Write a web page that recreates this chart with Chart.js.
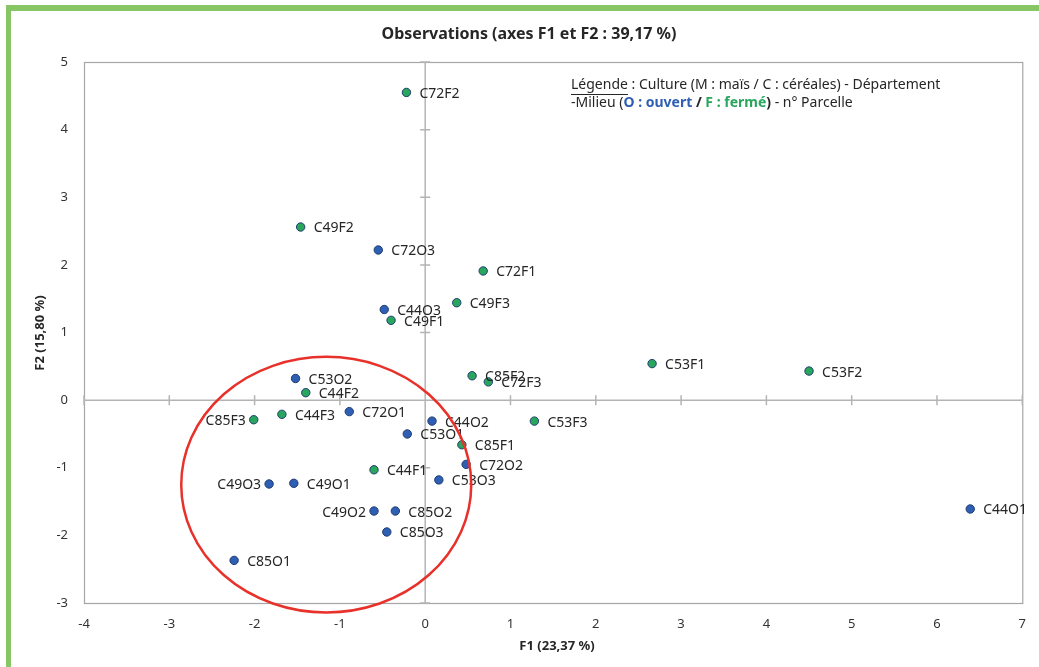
<!DOCTYPE html>
<html><head><meta charset="utf-8">
<script src="https://cdn.jsdelivr.net/npm/chart.js@4.4.1/dist/chart.umd.min.js"></script>
<style>
html,body{margin:0;padding:0;background:#fff;}
#wrap{position:relative;width:1039px;height:667px;overflow:hidden;background:#fff;}
#frame{position:absolute;left:6px;top:5px;right:-10px;bottom:-10px;border-top:6px solid #86c664;border-left:5px solid #86c664;}
canvas{position:absolute;left:0;top:0;}
</style></head><body>
<div id="wrap"><div id="frame"></div><canvas id="c" width="1039" height="667"></canvas></div>
<script>
// ---- data ----
const obsNames = ["C72F2","C49F2","C72O3","C72F1","C49F3","C44O3","C49F1","C85F2","C72F3","C53F1","C53F2",
  "C53O2","C44F2","C85F3","C44F3","C72O1","C44O2","C53F3","C53O1","C85F1","C72O2","C44F1","C53O3",
  "C49O3","C49O1","C49O2","C85O2","C85O3","C85O1","C44O1"];
const f1Values = [-0.22,-1.46,-0.55,0.68,0.37,-0.48,-0.40,0.55,0.74,2.66,4.50,
  -1.52,-1.40,-2.01,-1.68,-0.89,0.08,1.28,-0.21,0.43,0.48,-0.60,0.16,
  -1.83,-1.54,-0.60,-0.35,-0.45,-2.24,6.39];
const f2Values = [4.55,2.56,2.22,1.91,1.44,1.34,1.18,0.36,0.27,0.54,0.43,
  0.32,0.11,-0.29,-0.21,-0.17,-0.31,-0.31,-0.50,-0.66,-0.95,-1.03,-1.18,
  -1.24,-1.23,-1.64,-1.64,-1.95,-2.37,-1.61];
const xTicks = [-4,-3,-2,-1,0,1,2,3,4,5,6,7];
const yTicks = [-3,-2,-1,0,1,2,3,4,5];
const titleText = "Observations (axes F1 et F2 : 39,17 %)";
const xTitle = "F1 (23,37 %)";
const yTitle = "F2 (15,80 %)";

// ---- presentation ----
const leftLabelNames = ["C85F3","C49O3","C49O2"];
const ellipseShape = {cx:-1.16, cy:-1.25, rx:1.70, ry:1.89};
const BLUE = "#2f5fb4", GREEN = "#29a65e", EDGE = "#1f3c70";
const FONT = "'Noto Sans', 'Open Sans', sans-serif";

function pointsFor(letter){
  const out = [];
  obsNames.forEach((n,i)=>{ if(n.charAt(3)===letter) out.push({x:f1Values[i], y:f2Values[i], name:n}); });
  return out;
}

const decor = {
  id:'decor',
  beforeDatasetsDraw(chart){
    const {ctx, chartArea:a, scales:{x,y}} = chart;
    ctx.save();
    ctx.strokeStyle = "#a6a6a6"; ctx.lineWidth = 1.2;
    ctx.strokeRect(a.left+0.5, a.top+0.5, a.right-a.left, a.bottom-a.top);
    const x0 = x.getPixelForValue(0), y0 = y.getPixelForValue(0);
    ctx.strokeStyle = "#b4b4b4"; ctx.lineWidth = 1.5;
    ctx.beginPath();
    ctx.moveTo(x0, a.top); ctx.lineTo(x0, a.bottom);
    ctx.moveTo(a.left, y0); ctx.lineTo(a.right, y0);
    xTicks.forEach(v=>{ const px = x.getPixelForValue(v); ctx.moveTo(px, y0-5); ctx.lineTo(px, y0+5); });
    yTicks.forEach(v=>{ const py = y.getPixelForValue(v); ctx.moveTo(x0-5, py); ctx.lineTo(x0+5, py); });
    ctx.stroke();
    ctx.restore();
  },
  afterDatasetsDraw(chart){
    const {ctx, scales:{x,y}} = chart;
    ctx.save();
    ctx.font = "14px " + FONT;
    ctx.fillStyle = "#262626";
    ctx.textBaseline = "middle";
    obsNames.forEach((n,i)=>{
      const px = x.getPixelForValue(f1Values[i]), py = y.getPixelForValue(f2Values[i]);
      if(leftLabelNames.includes(n)){ ctx.textAlign="right"; ctx.fillText(n, px-8, py+1.5); }
      else { ctx.textAlign="left"; ctx.fillText(n, px+13, py+1.5); }
    });
    const ecx = x.getPixelForValue(ellipseShape.cx), ecy = y.getPixelForValue(ellipseShape.cy);
    const erx = Math.abs(x.getPixelForValue(ellipseShape.cx+ellipseShape.rx)-ecx);
    const ery = Math.abs(y.getPixelForValue(ellipseShape.cy+ellipseShape.ry)-ecy);
    ctx.strokeStyle = "#e8312a"; ctx.lineWidth = 2.5;
    ctx.beginPath(); ctx.ellipse(ecx, ecy, erx, ery, 0, 0, Math.PI*2); ctx.stroke();
    ctx.restore();
  },
  afterDraw(chart){
    const {ctx} = chart;
    ctx.save();
    ctx.fillStyle = "#262626";
    ctx.textBaseline = "middle";
    ctx.textAlign = "center";
    ctx.font = "bold 16px " + FONT;
    ctx.fillText(titleText, 529, 34);
    ctx.font = "bold 13px " + FONT;
    ctx.fillText(xTitle, 557, 646);
    ctx.save(); ctx.translate(40, 333); ctx.rotate(-Math.PI/2); ctx.fillText(yTitle, 0, 0); ctx.restore();
    ctx.textAlign = "left";
    const segs1 = [["Légende","n","#262626",true],[" : Culture (M : maïs / C : céréales) - Département","n","#262626",false]];
    const segs2 = [["-Milieu (","n","#262626"],["O : ouvert","b",BLUE],[" / ","b","#262626"],["F : fermé","b",GREEN],[")","b","#262626"],[" - n° Parcelle","n","#262626"]];
    let cx = 571;
    segs1.forEach(s=>{
      ctx.font = "14px " + FONT; ctx.fillStyle = s[2];
      ctx.fillText(s[0], cx, 85);
      const w = ctx.measureText(s[0]).width;
      if(s[3]){ ctx.strokeStyle="#262626"; ctx.lineWidth=1; ctx.beginPath(); ctx.moveTo(cx, 94.5); ctx.lineTo(cx+w, 94.5); ctx.stroke(); }
      cx += w;
    });
    cx = 571;
    segs2.forEach(s=>{
      ctx.font = (s[1]==="b"?"bold ":"") + "14px " + FONT; ctx.fillStyle = s[2];
      ctx.fillText(s[0], cx, 103);
      cx += ctx.measureText(s[0]).width;
    });
    ctx.restore();
  }
};

new Chart(document.getElementById('c'), {
  type:'scatter',
  data:{ datasets:[
    {label:"Ouvert", data:pointsFor("O"), backgroundColor:BLUE, borderColor:EDGE, borderWidth:1, pointRadius:4.2},
    {label:"Fermé", data:pointsFor("F"), backgroundColor:GREEN, borderColor:EDGE, borderWidth:1, pointRadius:4.2}
  ]},
  options:{
    responsive:false, animation:false, devicePixelRatio:1,
    layout:{padding:{left:0, right:14, top:62, bottom:0}},
    plugins:{legend:{display:false}, title:{display:false}, tooltip:{enabled:false}},
    scales:{
      x:{type:'linear', min:-4, max:7,
        afterBuildTicks(s){ s.ticks = xTicks.map(v=>({value:v})); },
        afterFit(s){ s.height = 64; },
        grid:{display:false, drawTicks:false}, border:{display:false},
        ticks:{padding:13, color:"#333", font:{family:FONT, size:13}}},
      y:{type:'linear', min:-3, max:5,
        afterBuildTicks(s){ s.ticks = yTicks.map(v=>({value:v})); },
        afterFit(s){ s.width = 84; },
        grid:{display:false, drawTicks:false}, border:{display:false},
        ticks:{padding:16, color:"#333", font:{family:FONT, size:13}}}
    }
  },
  plugins:[decor]
});
</script>
</body></html>
